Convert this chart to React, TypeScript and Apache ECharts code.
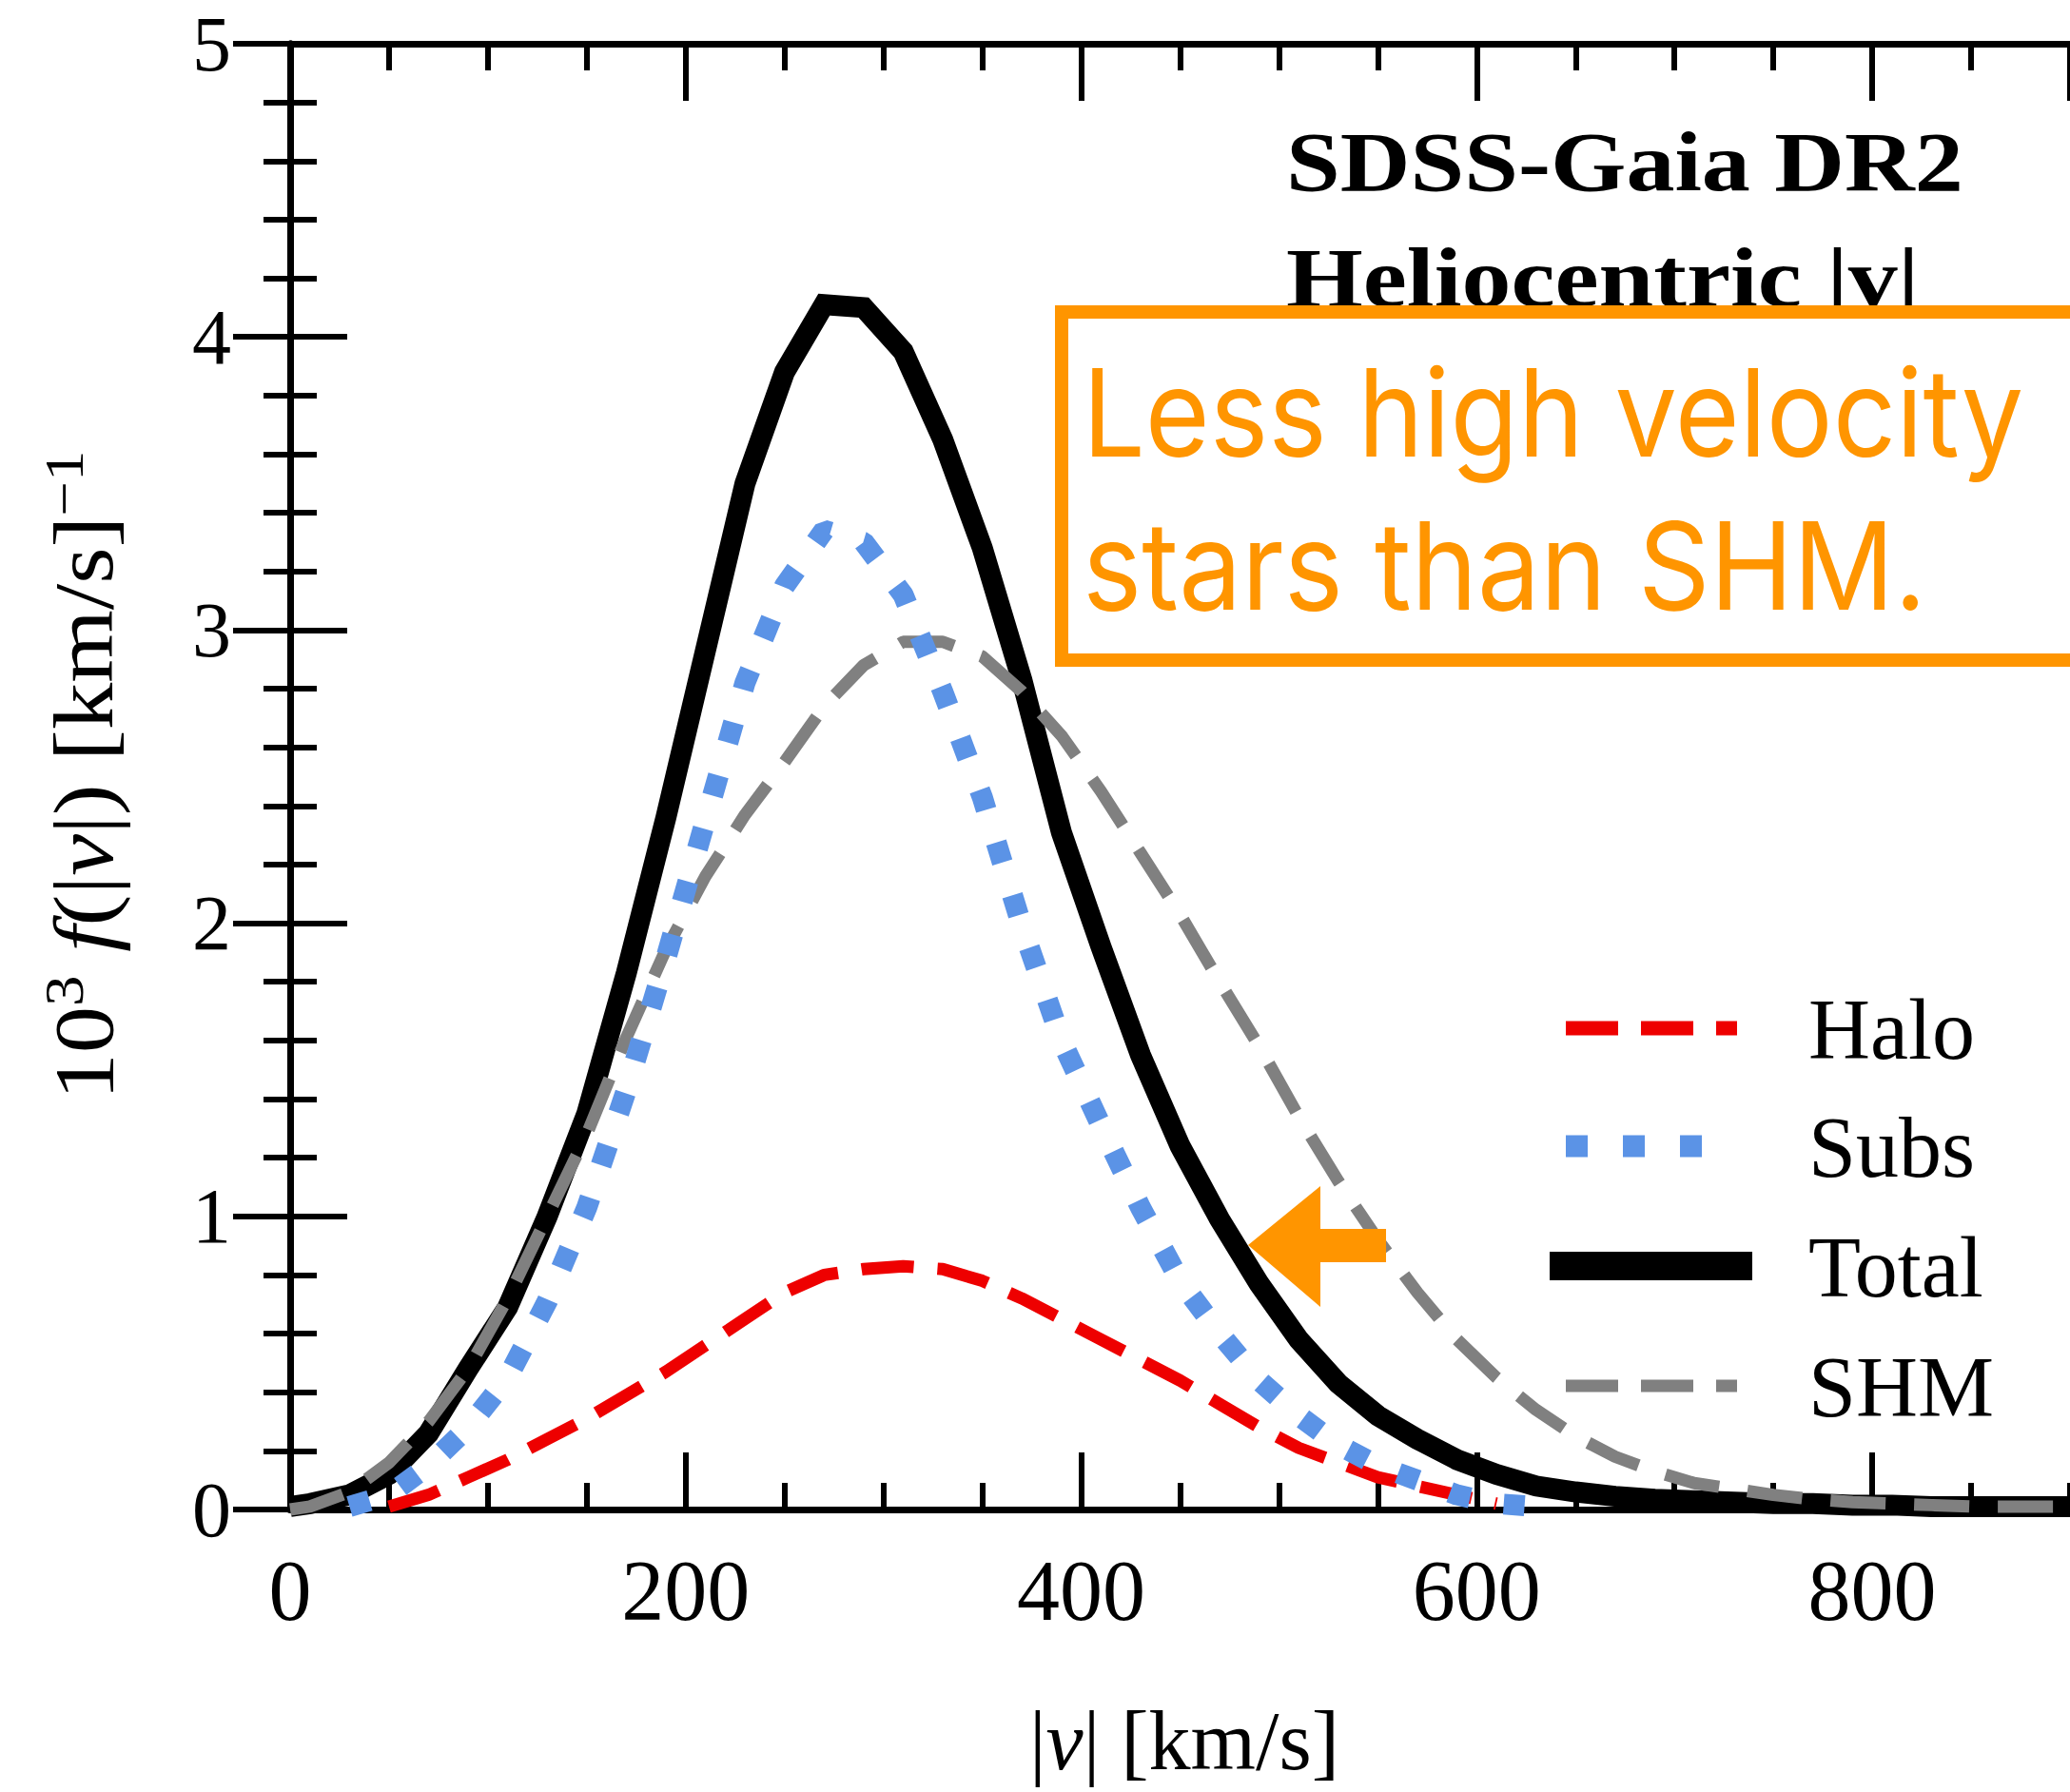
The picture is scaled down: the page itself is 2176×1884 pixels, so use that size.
import React, { useEffect, useRef } from "react";
import * as echarts from "echarts";

// |v| grid in km/s
const VELOCITY = [0, 10, 30, 50, 70, 90, 110, 130, 150, 170, 190, 210, 230, 250, 270, 290, 310, 330, 350, 370, 390, 410, 430, 450, 470, 490, 510, 530, 550, 570, 590, 610, 630, 650, 670, 690, 710, 730, 750, 770, 790, 810, 830, 850, 870, 890, 900];

const HALO = [null, null, null, 0.01, 0.05, 0.11, 0.17, 0.24, 0.31, 0.39, 0.47, 0.56, 0.65, 0.74, 0.8, 0.82, 0.83, 0.82, 0.78, 0.72, 0.65, 0.58, 0.51, 0.44, 0.36, 0.28, 0.21, 0.16, 0.11, 0.08, 0.05, 0.02, null, null, null, null, null, null, null, null, null, null, null, null, null, null, null];

const SUBS = [null, null, 0.01, 0.05, 0.15, 0.28, 0.45, 0.71, 1.03, 1.43, 1.88, 2.35, 2.82, 3.15, 3.34, 3.3, 3.12, 2.79, 2.43, 1.99, 1.6, 1.31, 1.03, 0.78, 0.6, 0.44, 0.32, 0.22, 0.15, 0.1, 0.05, 0.02, 0.01, null, null, null, null, null, null, null, null, null, null, null, null, null, null];

const TOTAL = [0.01, 0.02, 0.05, 0.12, 0.26, 0.48, 0.69, 1.0, 1.35, 1.83, 2.36, 2.93, 3.5, 3.88, 4.11, 4.1, 3.95, 3.65, 3.28, 2.83, 2.31, 1.92, 1.55, 1.24, 0.99, 0.77, 0.58, 0.43, 0.32, 0.24, 0.17, 0.12, 0.08, 0.06, 0.045, 0.035, 0.03, 0.025, 0.02, 0.02, 0.015, 0.015, 0.01, 0.01, 0.01, 0.01, 0.01];

const SHM = [0.0, 0.01, 0.06, 0.16, 0.3, 0.48, 0.72, 1.0, 1.28, 1.61, 1.91, 2.16, 2.37, 2.55, 2.74, 2.88, 2.96, 2.96, 2.91, 2.79, 2.64, 2.45, 2.24, 2.03, 1.8, 1.58, 1.34, 1.12, 0.92, 0.74, 0.58, 0.45, 0.34, 0.25, 0.18, 0.13, 0.09, 0.07, 0.05, 0.035, 0.025, 0.02, 0.015, 0.01, 0.01, 0.01, 0.01];

const LEGEND_NAMES = ["Halo", "Subs", "Total", "SHM"];
const TITLE_LINES = ["SDSS-Gaia DR2", "Heliocentric |v|"];
const NOTE_LINES = ["Less high velocity", "stars than SHM."];

const SERIF = "Liberation Serif";
const ORANGE = "#FF9500";
const COLORS: Record<string, string> = { Halo: "#EE0000", Subs: "#5B93E6", Total: "#000000", SHM: "#808080" };

function pairs(vals: (number | null)[]) {
  return VELOCITY.map((v, i) => [v, vals[i]]);
}

export default function App() {
  const ref = useRef<HTMLDivElement>(null);
  useEffect(() => {
    if (!ref.current) return;
    const chart = echarts.init(ref.current, null, { renderer: "svg" });
    const axisLine = { show: true, lineStyle: { color: "#000", width: 7 } };
    const majorX = (pos: string, labels: boolean) => ({
      type: "value",
      min: 0,
      max: 900,
      interval: 200,
      position: pos,
      axisLine,
      axisTick: { show: true, inside: true, length: 60, lineStyle: { color: "#000", width: 6 } },
      axisLabel: {
        show: labels,
        margin: 45,
        fontSize: 90,
        lineHeight: 80,
        fontFamily: SERIF,
        color: "#000",
        showMaxLabel: false,
      },
      splitLine: { show: false },
    });
    const minorX = (pos: string) => ({
      type: "value",
      min: 0,
      max: 900,
      interval: 50,
      position: pos,
      axisLine: { show: false },
      axisTick: { show: true, inside: true, length: 28, lineStyle: { color: "#000", width: 6 } },
      axisLabel: { show: false },
      splitLine: { show: false },
    });
    const yAx = (pos: string, labels: boolean) => ({
      type: "value",
      min: 0,
      max: 5,
      interval: 1,
      position: pos,
      axisLine,
      axisTick: { show: true, inside: true, length: 60, lineStyle: { color: "#000", width: 6 } },
      minorTick: { show: true, splitNumber: 5, length: 28, lineStyle: { color: "#000", width: 6 } },
      axisLabel: { show: labels, margin: 62, fontSize: 82, lineHeight: 70, fontFamily: SERIF, color: "#000" },
      splitLine: { show: false },
      minorSplitLine: { show: false },
    });

    // legend keys (drawn as graphics so the dash/dot patterns match the reference)
    const legendRows = [1081, 1205, 1331, 1457];
    const legendGraphics: any[] = [];
    LEGEND_NAMES.forEach((name, i) => {
      const y = legendRows[i];
      let shape: any;
      let style: any;
      if (name === "Total") {
        shape = { x1: 1629, y1: y, x2: 1842, y2: y };
        style = { stroke: COLORS[name], lineWidth: 30 };
      } else if (name === "Subs") {
        shape = { x1: 1646, y1: y, x2: 1790, y2: y };
        style = { stroke: COLORS[name], lineWidth: 23, lineDash: [23, 37] };
      } else {
        shape = { x1: 1646, y1: y, x2: 1826, y2: y };
        style = { stroke: COLORS[name], lineWidth: name === "Halo" ? 15 : 13, lineDash: [55, 24] };
      }
      legendGraphics.push({ type: "line", z: 98, shape, style });
      legendGraphics.push({
        type: "text",
        x: 1901,
        y: y + 1,
        z: 98,
        style: {
          text: name,
          fontFamily: SERIF,
          fontSize: 90,
          fill: "#000",
          align: "left",
          verticalAlign: "middle",
        },
      });
    });

    const option: any = {
      animation: false,
      backgroundColor: "#fff",
      grid: { left: 305, right: -5, top: 46, bottom: 297, containLabel: false },
      xAxis: [majorX("bottom", true), minorX("bottom"), majorX("top", false), minorX("top")],
      yAxis: [yAx("left", true), yAx("right", false)],
      series: [
        {
          name: "Total",
          type: "line",
          data: pairs(TOTAL),
          symbol: "none",
          showSymbol: false,
          z: 2,
          lineStyle: { color: COLORS.Total, width: 22, type: "solid", join: "miter" },
          itemStyle: { color: COLORS.Total },
        },
        {
          name: "Halo",
          type: "line",
          data: pairs(HALO),
          symbol: "none",
          showSymbol: false,
          z: 3,
          lineStyle: { color: COLORS.Halo, width: 13, type: [55, 25] },
          itemStyle: { color: COLORS.Halo },
        },
        {
          name: "SHM",
          type: "line",
          data: pairs(SHM),
          symbol: "none",
          showSymbol: false,
          z: 4,
          lineStyle: { color: COLORS.SHM, width: 13, type: [58, 30] },
          itemStyle: { color: COLORS.SHM },
        },
        {
          name: "Subs",
          type: "line",
          data: pairs(SUBS),
          symbol: "none",
          showSymbol: false,
          z: 5,
          lineStyle: { color: COLORS.Subs, width: 22, type: [22, 36] },
          itemStyle: { color: COLORS.Subs },
        },
      ],
      graphic: [
        ...legendGraphics,
        {
          type: "text",
          x: 1352,
          y: 170,
          scaleX: 1.16,
          z: 99,
          style: {
            text: TITLE_LINES[0],
            fontFamily: SERIF,
            fontWeight: "bold",
            fontSize: 88,
            fill: "#000",
            align: "left",
            verticalAlign: "middle",
          },
        },
        {
          type: "text",
          x: 1352,
          y: 292,
          scaleX: 1.18,
          z: 99,
          style: {
            text: TITLE_LINES[1],
            fontFamily: SERIF,
            fontWeight: "bold",
            fontSize: 88,
            fill: "#000",
            align: "left",
            verticalAlign: "middle",
          },
        },
        {
          type: "rect",
          z: 100,
          shape: { x: 1116, y: 328, width: 1100, height: 366 },
          style: { fill: "#fff", stroke: ORANGE, lineWidth: 14 },
        },
        {
          type: "text",
          x: 1138,
          y: 433,
          z: 101,
          scaleX: 0.91,
          style: {
            text: NOTE_LINES[0],
            fontFamily: "Inter",
            fontSize: 128,
            fill: ORANGE,
            align: "left",
            verticalAlign: "middle",
          },
        },
        {
          type: "text",
          x: 1138,
          y: 595,
          z: 101,
          scaleX: 0.92,
          style: {
            text: NOTE_LINES[1],
            fontFamily: "Inter",
            fontSize: 128,
            fill: ORANGE,
            align: "left",
            verticalAlign: "middle",
          },
        },
        {
          type: "polygon",
          z: 101,
          shape: {
            points: [
              [1312, 1309],
              [1388, 1247],
              [1388, 1292],
              [1457, 1292],
              [1457, 1327],
              [1388, 1327],
              [1388, 1374],
            ],
          },
          style: { fill: ORANGE },
        },
        {
          type: "text",
          x: 88,
          y: 815,
          rotation: Math.PI / 2,
          scaleX: 1.12,
          z: 99,
          style: {
            text: "{n|10}{s|3}{n| }{i|f}{n|(|}{i|v}{n||) [km/s]}{s|\u22121}",
            align: "center",
            verticalAlign: "middle",
            fill: "#000",
            rich: {
              n: { fontFamily: SERIF, fontSize: 88, lineHeight: 100, fill: "#000" },
              i: { fontFamily: SERIF, fontSize: 88, fontStyle: "italic", lineHeight: 100, fill: "#000" },
              s: { fontFamily: SERIF, fontSize: 58, lineHeight: 60, verticalAlign: "top", fill: "#000" },
            },
          },
        },
        {
          type: "text",
          x: 1245,
          y: 1830,
          z: 99,
          style: {
            text: "{n||}{i|v}{n|| [km/s]}",
            align: "center",
            verticalAlign: "middle",
            fill: "#000",
            rich: {
              n: { fontFamily: SERIF, fontSize: 88, lineHeight: 80, fill: "#000" },
              i: { fontFamily: SERIF, fontSize: 88, fontStyle: "italic", lineHeight: 80, fill: "#000" },
            },
          },
        },
      ],
    };
    chart.setOption(option);
    return () => chart.dispose();
  }, []);
  return (
    <div
      ref={ref}
      style={{ position: "absolute", left: 0, top: 0, width: 2176, height: 1884, background: "#fff" }}
    />
  );
}
